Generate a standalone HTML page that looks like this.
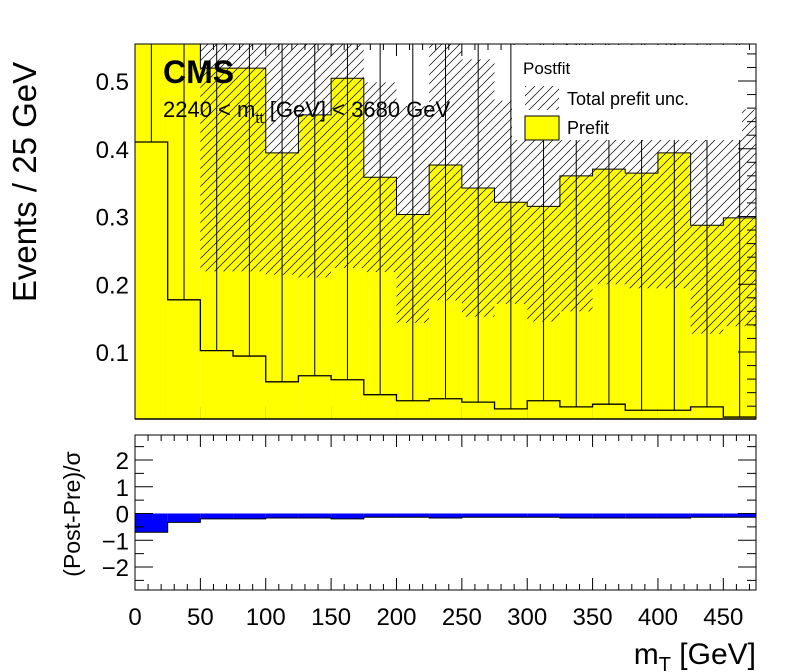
<!DOCTYPE html>
<html><head><meta charset="utf-8"><style>
html,body{margin:0;padding:0;background:#fff;}
svg{display:block;font-family:"Liberation Sans",sans-serif;}
</style></head><body>
<svg id="c" width="796" height="672" viewBox="0 0 796 672" xmlns="http://www.w3.org/2000/svg">
<defs>
<pattern id="hatch" patternUnits="userSpaceOnUse" width="9" height="9">
<path d="M0,9 L9,0 M-2,2 L2,-2 M7,11 L11,7" stroke="#000" stroke-width="0.7"/>
</pattern>
<clipPath id="topclip"><rect x="135" y="44" width="621" height="375"/></clipPath>
<clipPath id="botclip"><rect x="135" y="435" width="621" height="155"/></clipPath>
</defs>
<g id="gunder"></g>
<g id="gtop" clip-path="url(#topclip)"></g>
<g id="gbot" clip-path="url(#botclip)"></g>
<g id="gaxes"></g>
</svg>
<script>
const binWidth = 25, nBins = 19;
const prefit = [0.9,0.9,0.519,0.519,0.394,0.45,0.504,0.358,0.303,0.376,0.342,0.321,0.315,0.36,0.37,0.364,0.394,0.287,0.298];
const prefitErr = [0.2,0.2,0.30,0.30,0.18,0.24,0.28,0.14,0.16,0.20,0.19,0.15,0.17,0.20,0.17,0.17,0.20,0.16,0.16];
const postfit = [0.410,0.177,0.102,0.094,0.056,0.065,0.059,0.037,0.028,0.031,0.026,0.016,0.028,0.019,0.023,0.014,0.014,0.019,0.004];
const pull = [-0.7,-0.33,-0.2,-0.2,-0.17,-0.17,-0.2,-0.14,-0.14,-0.17,-0.14,-0.14,-0.14,-0.17,-0.17,-0.17,-0.17,-0.14,-0.14];
const xTicks = [0,50,100,150,200,250,300,350,400,450];
const yTicks = [0.1,0.2,0.3,0.4,0.5];
const rTicks = [-2,-1,0,1,2];

const NS="http://www.w3.org/2000/svg";
const X0=135,X1=756,XMAX=475;
const sx=v=>X0+v*(X1-X0)/XMAX;
const TY0=44,TY1=419;
const sy=v=>419.75-v*677.5;
const BY0=435,BY1=590;
const ry=v=>513.5-v*26.75;
function el(tag,attrs,parent){const e=document.createElementNS(NS,tag);for(const k in attrs)e.setAttribute(k,attrs[k]);parent.appendChild(e);return e;}
const gUnder=document.getElementById('gunder'),gTop=document.getElementById('gtop'),gBot=document.getElementById('gbot'),gAx=document.getElementById('gaxes');

for(let i=0;i<nBins;i++){
  const a=sx(i*binWidth),b=sx((i+1)*binWidth);
  const r=el('rect',{x:a,y:sy(prefit[i]),width:b-a,height:sy(0)-sy(prefit[i]),fill:'#ffff00'},gTop);
  
  
}
for(let i=0;i<nBins;i++){
  const a=sx(i*binWidth),b=sx((i+1)*binWidth);
  const hi=prefit[i]+prefitErr[i],lo=prefit[i]-prefitErr[i];
  const r=el('rect',{x:a,y:sy(hi),width:b-a,height:sy(lo)-sy(hi),fill:'url(#hatch)'},gTop);
  
  
}
let d='M'+sx(0)+','+sy(0);
for(let i=0;i<nBins;i++){d+=' L'+sx(i*binWidth)+','+sy(prefit[i])+' L'+sx((i+1)*binWidth)+','+sy(prefit[i]);}
const po=el('path',{d:d,fill:'none',stroke:'#000','stroke-width':1},gTop);


d='M'+sx(0)+','+sy(postfit[0]);
for(let i=0;i<nBins;i++){d+=' L'+sx(i*binWidth)+','+sy(postfit[i])+' L'+sx((i+1)*binWidth)+','+sy(postfit[i]);}
const pf=el('path',{d:d,fill:'none',stroke:'#000','stroke-width':1.3},gTop);


for(let i=0;i<nBins;i++){
  const c=sx((i+0.5)*binWidth);
  const l=el('line',{x1:c,x2:c,y1:TY0,y2:sy(postfit[i]),stroke:'#000','stroke-width':1},gTop);
  
  
}
const lg=el('g',{},gAx);


el('rect',{x:512,y:45,width:230,height:95,fill:'#fff'},lg);
let t=el('text',{x:523,y:74,'font-size':17},lg);t.textContent='Postfit';
el('rect',{x:525,y:86,width:34,height:24,fill:'url(#hatch)'},lg);
t=el('text',{x:567,y:105,'font-size':18},lg);t.textContent='Total prefit unc.';
el('rect',{x:525,y:116,width:34,height:24,fill:'#ffff00',stroke:'#000'},lg);
t=el('text',{x:567,y:134,'font-size':18},lg);t.textContent='Prefit';

t=el('text',{x:163,y:83,'font-size':32,'font-weight':'bold'},gAx);t.textContent='CMS';


t=el('text',{x:163,y:117,'font-size':22},gAx);
t.innerHTML='2240 &lt; m<tspan font-size="15" dy="6">tt</tspan><tspan dy="-6"> [GeV] &lt; 3680 GeV</tspan>';



for(let i=0;i<nBins;i++){
  const a=sx(i*binWidth),b=sx((i+1)*binWidth);
  const r=el('rect',{x:a,y:Math.min(ry(0),ry(pull[i])),width:b-a,height:Math.abs(ry(pull[i])-ry(0)),fill:'#0000ff'},gBot);
  
  
}
d='M'+sx(0)+','+ry(pull[0]);
for(let i=0;i<nBins;i++){d+=' L'+sx(i*binWidth)+','+ry(pull[i])+' L'+sx((i+1)*binWidth)+','+ry(pull[i]);}
el('path',{d:d,fill:'none',stroke:'#000','stroke-width':1},gBot);

const f1=el('rect',{x:X0,y:TY0,width:X1-X0,height:TY1-TY0,fill:'none',stroke:'#000','stroke-width':1},gUnder);


el('line',{x1:X0,x2:X1,y1:TY1,y2:TY1,stroke:'#000','stroke-width':1.5},gAx);
el('line',{x1:X0,x2:X1,y1:TY0,y2:TY0,stroke:'#000','stroke-width':1},gAx);
el('line',{x1:X1,x2:X1,y1:TY0,y2:TY1,stroke:'#000','stroke-width':1},gAx);
const f2=el('rect',{x:X0,y:BY0,width:X1-X0,height:BY1-BY0,fill:'none',stroke:'#000','stroke-width':1},gAx);



for(let v=0;v<=XMAX;v+=10){
  const x=sx(v),maj=v%50===0,L=maj?12:6;
  el('line',{x1:x,x2:x,y1:TY1,y2:TY1-L,stroke:'#000'},gUnder);
  el('line',{x1:x,x2:x,y1:TY0,y2:TY0+L,stroke:'#000'},gUnder);
  el('line',{x1:x,x2:x,y1:BY1,y2:BY1-L,stroke:'#000'},gAx);
  el('line',{x1:x,x2:x,y1:BY0,y2:BY0+L,stroke:'#000'},gAx);
}
for(const v of xTicks){
  const tt=el('text',{x:sx(v),y:625,'font-size':24,'text-anchor':'middle'},gAx);tt.textContent=v;
  
  
}
for(let k=1;k<=27;k++){
  const v=k*0.02,y=sy(v); if(y<TY0)break;
  const L=(k%5===0)?18:9;
  el('line',{x1:X1,x2:X1-L,y1:y,y2:y,stroke:'#000'},gAx);
}
for(const v of yTicks){
  const tt=el('text',{x:129,y:sy(v)+9,'font-size':24,'text-anchor':'end'},gAx);tt.textContent=v.toFixed(1);
  
  
}
for(let v=-2.5;v<=2.5;v+=0.5){
  const y=ry(v),L=(v%1===0)?18:9;
  el('line',{x1:X0,x2:X0+L,y1:y,y2:y,stroke:'#000'},gAx);
  el('line',{x1:X1,x2:X1-L,y1:y,y2:y,stroke:'#000'},gAx);
}
for(const v of rTicks){
  const tt=el('text',{x:129,y:ry(v)+9,'font-size':24,'text-anchor':'end'},gAx);tt.textContent=(v<0?'\u2212'+(-v):String(v));
  
  
}
t=el('text',{x:0,y:0,'font-size':33,'text-anchor':'middle',transform:'translate(36,182) rotate(-90)'},gAx);t.textContent='Events / 25 GeV';


t=el('text',{x:0,y:0,'font-size':23,'text-anchor':'middle',transform:'translate(80,514) rotate(-90)'},gAx);t.textContent='(Post-Pre)/\u03c3';


t=el('text',{x:756,y:664,'font-size':30,'text-anchor':'end'},gAx);
t.innerHTML='m<tspan font-size="20" dy="7">T</tspan><tspan dy="-7"> [GeV]</tspan>';


</script>
</body></html>
